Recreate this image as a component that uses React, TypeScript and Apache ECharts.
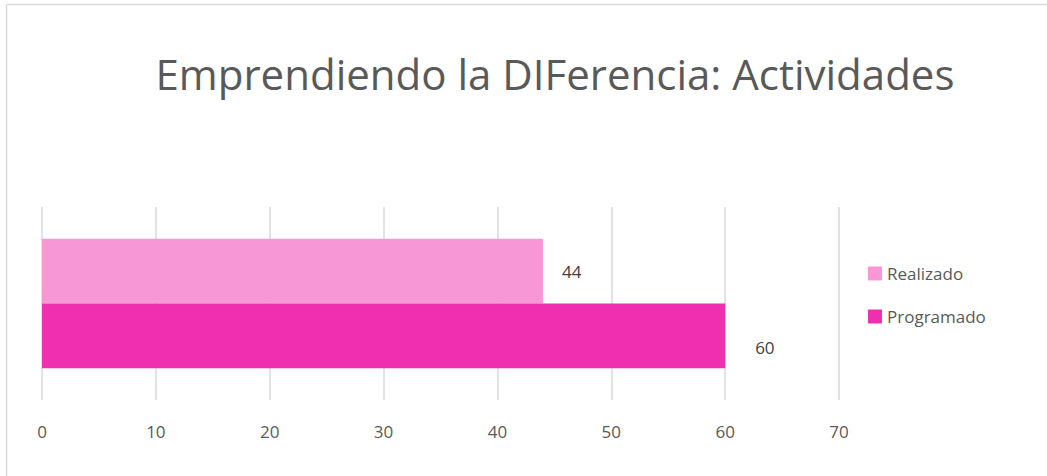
import React, { useEffect, useRef } from "react";
import * as echarts from "echarts";

const titleText = "Emprendiendo la DIFerencia: Actividades";
const categories = [""];
const seriesNames = ["Realizado", "Programado"];
const realizado = [44];
const programado = [60];
const axisMin = 0;
const axisMax = 70;
const axisInterval = 10;
const colors = ["#F797D6", "#F02EB0"];

export default function App() {
  const ref = useRef<HTMLDivElement>(null);
  useEffect(() => {
    if (!ref.current) return;
    const chart = echarts.init(ref.current, null, { renderer: "svg" });
    const font = "'Open Sans', sans-serif";
    chart.setOption({
      animation: false,
      backgroundColor: "#ffffff",
      title: {
        text: titleText,
        left: 550,
        textAlign: "center",
        top: 47,
        textStyle: { fontFamily: font, fontSize: 42, fontWeight: "normal", color: "#595959" },
      },
      legend: {
        orient: "vertical",
        left: 863,
        top: 260,
        itemWidth: 14,
        itemHeight: 14,
        itemGap: 26,
        icon: "rect",
        data: seriesNames,
        textStyle: { fontFamily: font, fontSize: 17, color: "#595959" },
      },
      grid: { left: 42, right: 208, top: 207, bottom: 76 },
      xAxis: {
        type: "value",
        min: axisMin,
        max: axisMax,
        interval: axisInterval,
        axisLine: { show: false },
        axisTick: { show: false },
        axisLabel: { fontFamily: font, fontSize: 17, color: "#595959", margin: 23 },
        splitLine: { lineStyle: { color: "#d9d9d9", width: 1.5 } },
      },
      yAxis: {
        type: "category",
        data: categories,
        axisLine: { show: false },
        axisTick: { show: false },
        axisLabel: { show: false },
        inverse: true,
      },
      graphic: [
        { type: "line", shape: { x1: 6.5, y1: 4.5, x2: 1047, y2: 4.5 }, style: { stroke: "#d9d9d9", lineWidth: 1.5 } },
        { type: "line", shape: { x1: 6.5, y1: 4.5, x2: 6.5, y2: 476 }, style: { stroke: "#d9d9d9", lineWidth: 1.5 } },
      ],
      series: [
        {
          name: seriesNames[0],
          type: "bar",
          data: realizado,
          barGap: "0%",
          barCategoryGap: "33%",
          itemStyle: { color: colors[0] },
          label: { show: true, position: "right", distance: 19, fontFamily: font, fontSize: 17, color: "#404040" },
        },
        {
          name: seriesNames[1],
          type: "bar",
          data: programado,
          barGap: "0%",
          barCategoryGap: "33%",
          itemStyle: { color: colors[1] },
          label: { show: true, position: "right", distance: 30, fontFamily: font, fontSize: 17, color: "#404040", offset: [0, 12] },
        },
      ],
    });
    return () => chart.dispose();
  }, []);
  return (
    <div
      ref={ref}
      style={{ position: "fixed", left: 0, top: 0, width: 1047, height: 476 }}
    />
  );
}
